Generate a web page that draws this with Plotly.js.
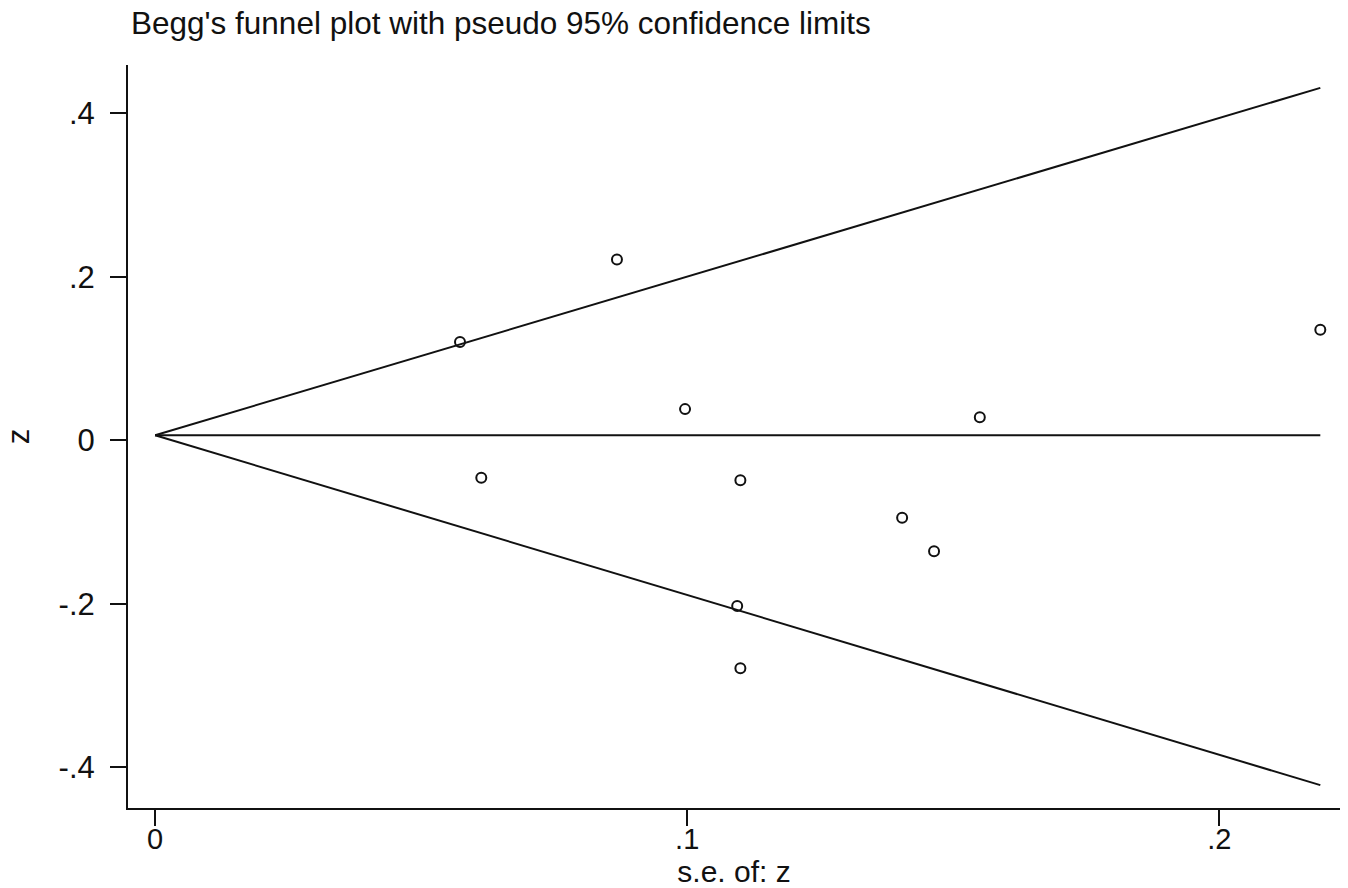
<!DOCTYPE html>
<html>
<head>
<meta charset="utf-8">
<script src="https://cdn.plot.ly/plotly-3.0.1.min.js"></script>
<style>html,body{margin:0;padding:0;background:#fff;}#chart{width:1348px;height:888px;}</style>
</head>
<body>
<div id="chart"></div>
<script>
// Study points: standard error (x) and effect z (y)
const studySE = [0.0573, 0.0868, 0.0996, 0.0613, 0.1100, 0.1094, 0.1100, 0.1404, 0.1464, 0.1550, 0.2190];
const studyZ  = [0.120, 0.221, 0.038, -0.046, -0.049, -0.203, -0.279, -0.095, -0.136, 0.028, 0.135];

// Pseudo 95% confidence limits (endpoints)
const limitSE    = [0, 0.219];
const pooledLine = [0.006, 0.006];
const upperLimit = [0.006, 0.431];
const lowerLimit = [0.006, -0.422];

// Tick labels
const xTickVals = [0, 0.1, 0.2];
const xTickText = ['0', '.1', '.2'];
const yTickVals = [-0.4, -0.2, 0, 0.2, 0.4];
const yTickText = ['-.4', '-.2', '0', '.2', '.4'];

const FONT = 'Liberation Sans, Arial, sans-serif';
const lineStyle = {color: '#111', width: 2};

const traces = [
  {x: limitSE, y: upperLimit, mode: 'lines', line: lineStyle, hoverinfo: 'skip'},
  {x: limitSE, y: lowerLimit, mode: 'lines', line: lineStyle, hoverinfo: 'skip'},
  {x: limitSE, y: pooledLine, mode: 'lines', line: lineStyle, hoverinfo: 'skip'},
  {x: studySE, y: studyZ, mode: 'markers',
   marker: {symbol: 'circle-open', size: 10, color: '#111', line: {color: '#111', width: 2}}}
];

const layout = {
  width: 1348, height: 888,
  paper_bgcolor: '#fff', plot_bgcolor: '#fff',
  showlegend: false,
  margin: {l: 128, r: 8, t: 65, b: 80, pad: 0},
  font: {family: FONT, color: '#111'},
  title: {text: "Begg's funnel plot with pseudo 95% confidence limits",
          x: 131/1348, xanchor: 'left', xref: 'container',
          y: 1 - 23/888, yanchor: 'middle', yref: 'container',
          font: {family: FONT, size: 31.5, color: '#111'}},
  xaxis: {
    range: [-0.0051, 0.2227], showgrid: false, zeroline: false,
    showline: true, linecolor: '#111', linewidth: 2,
    ticks: 'outside', ticklen: 16, tickwidth: 2, tickcolor: '#111',
    tickvals: xTickVals, ticktext: xTickText, ticklabelstandoff: -12,
    tickfont: {family: FONT, size: 29, color: '#111'},
    title: {text: 's.e. of: z', font: {family: FONT, size: 30, color: '#111'}, standoff: 0},
    fixedrange: true
  },
  yaxis: {
    range: [-0.45, 0.459], showgrid: false, zeroline: false,
    showline: true, linecolor: '#111', linewidth: 2,
    ticks: 'outside', ticklen: 16, tickwidth: 2, tickcolor: '#111',
    tickvals: yTickVals, ticktext: yTickText, ticklabelstandoff: 9,
    tickfont: {family: FONT, size: 31, color: '#111'},
    title: {text: 'z', font: {family: FONT, size: 31, color: '#111'}, standoff: 20},
    fixedrange: true
  }
};

Plotly.newPlot('chart', traces, layout, {displayModeBar: false, staticPlot: true});
</script>
</body>
</html>
